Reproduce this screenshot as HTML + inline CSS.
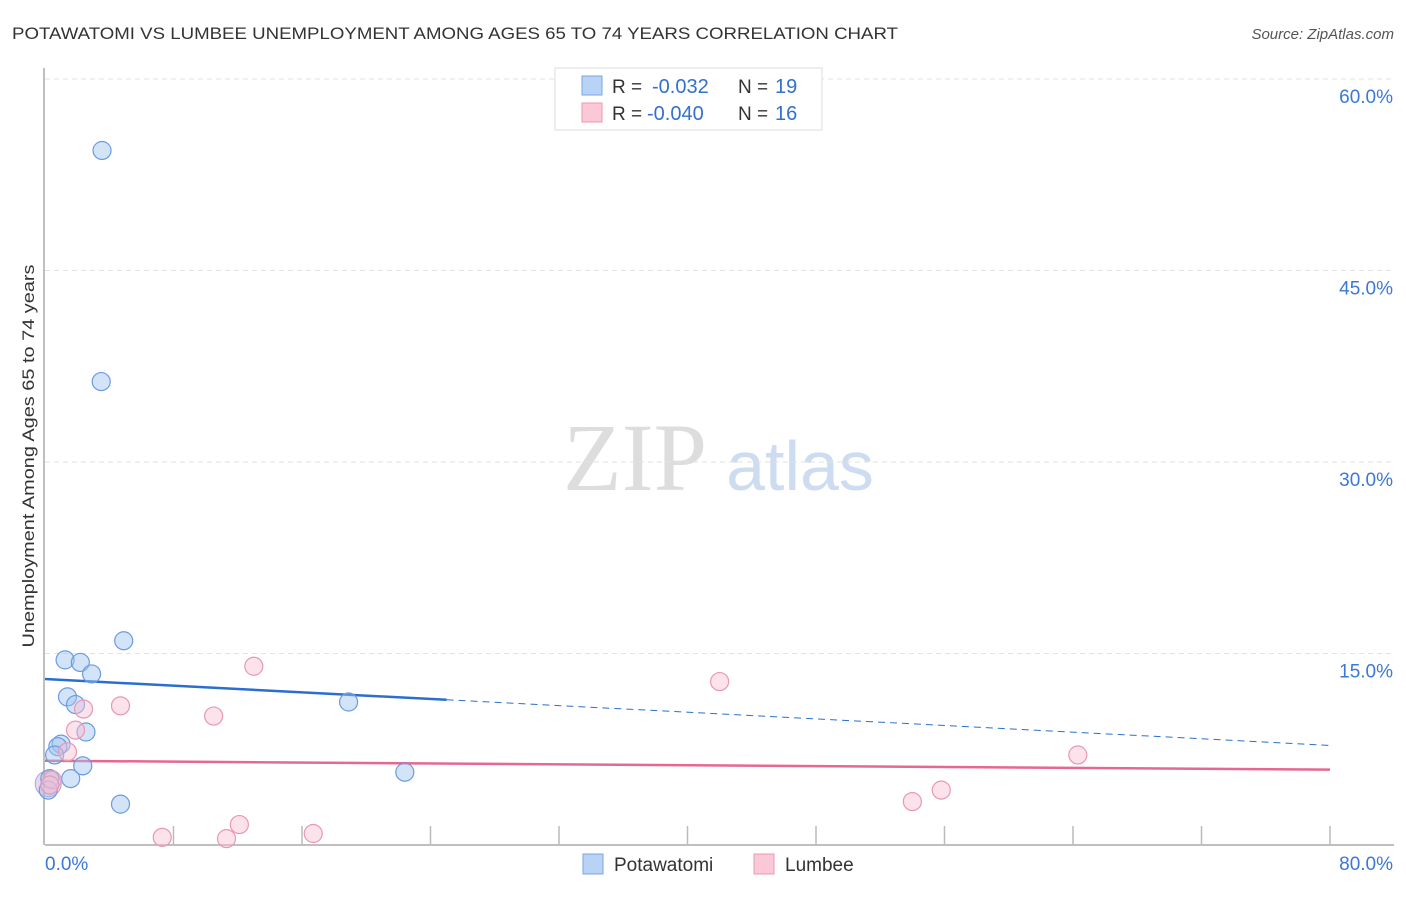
<!DOCTYPE html>
<html><head><meta charset="utf-8"><style>
body{margin:0;background:#fff;font-family:"Liberation Sans",sans-serif;}
</style></head><body>
<svg width="1406" height="892" xmlns="http://www.w3.org/2000/svg" id="chart" style="font-family:'Liberation Sans',sans-serif">
<text x="12" y="39" font-size="17" fill="#333" textLength="886" lengthAdjust="spacingAndGlyphs">POTAWATOMI VS LUMBEE UNEMPLOYMENT AMONG AGES 65 TO 74 YEARS CORRELATION CHART</text>
<text x="1394" y="39" font-size="15" fill="#555" font-style="italic" text-anchor="end">Source: ZipAtlas.com</text>
<text x="34" y="456" font-size="17" fill="#333" text-anchor="middle" textLength="383" lengthAdjust="spacingAndGlyphs" transform="rotate(-90 34 456)">Unemployment Among Ages 65 to 74 years</text>
<g><text x="635" y="490" font-size="96" fill="#ddd" font-family="Liberation Serif" text-anchor="middle">ZIP</text><text x="800" y="490" font-size="70" fill="#cddcf0" text-anchor="middle">atlas</text></g>
<g id="grid"></g><g id="axes"></g><g id="trends"></g><g id="points"></g>
<g>
<rect x="555" y="68" width="267" height="62" fill="#fff" stroke="#ddd"/>
<rect x="582" y="76" width="20" height="19" fill="#b8d3f5" stroke="#7aa6e0"/>
<rect x="582" y="103" width="20" height="19" fill="#fac8d6" stroke="#eb98b0"/>
<text x="612" y="93" font-size="19" fill="#333">R =</text><text x="652" y="93" font-size="20" fill="#3370cc">-0.032</text>
<text x="738" y="93" font-size="19" fill="#333">N =</text><text x="775" y="93" font-size="20" fill="#3370cc">19</text>
<text x="612" y="120" font-size="19" fill="#333">R =</text><text x="647" y="120" font-size="20" fill="#3370cc">-0.040</text>
<text x="738" y="120" font-size="19" fill="#333">N =</text><text x="775" y="120" font-size="20" fill="#3370cc">16</text>
</g>
<g>
<rect x="583" y="854" width="20" height="20" fill="#b8d3f5" stroke="#7aa6e0"/>
<text x="614" y="871" font-size="19" fill="#333">Potawatomi</text>
<rect x="754" y="854" width="20" height="20" fill="#fac8d6" stroke="#eb98b0"/>
<text x="785" y="871" font-size="19" fill="#333">Lumbee</text>
</g>
</svg>
<script>
const yTicks=[15,30,45,60];
const yTickLabels=["15.0%","30.0%","45.0%","60.0%"];
const xTicks=[0,8,16,24,32,40,48,56,64,72,80];
const potX=[3.55,3.5,4.9,1.25,2.2,2.9,1.4,1.9,2.55,1.0,0.8,0.6,2.35,1.6,0.3,0.2,4.7,18.9,22.4];
const potY=[54.4,36.3,16.0,14.5,14.3,13.4,11.6,11.0,8.85,7.9,7.7,7.05,6.2,5.2,5.2,4.3,3.2,11.2,5.7];
const lumX=[13.0,42.0,4.7,2.4,10.5,1.9,1.4,64.3,0.45,0.3,55.8,54.0,12.1,16.7,7.3,11.3];
const lumY=[14.0,12.8,10.9,10.65,10.1,9.0,7.3,7.05,5.1,4.7,4.3,3.4,1.6,0.9,0.6,0.5];
const potTrend=[13.0,7.8]; const lumTrend=[6.6,5.9];
const sx=v=>45+v*(1285/80), sy=v=>845-v*(766/60);
const NS="http://www.w3.org/2000/svg";
function mk(t,a,p){const e=document.createElementNS(NS,t);for(const k in a)e.setAttribute(k,a[k]);document.getElementById(p).appendChild(e);return e;}
yTicks.forEach((t,i)=>{
 const l=mk('line',{x1:45,x2:1394,y1:sy(t),y2:sy(t),stroke:'#e2e2e2','stroke-dasharray':'5,4'},'grid');
 
 
 const tx=mk('text',{x:1393,y:sy(t)+24,'font-size':19,fill:'#3b78d8','text-anchor':'end'},'grid');tx.textContent=yTickLabels[i];
 
 
});
mk('line',{x1:45,x2:1394,y1:845,y2:845,stroke:'#aaa','stroke-width':1.5},'axes');
mk('line',{x1:44,x2:44,y1:68,y2:845,stroke:'#aaa','stroke-width':1.5},'axes');
xTicks.slice(1).forEach(t=>{const l=mk('line',{x1:sx(t),x2:sx(t),y1:826,y2:845,stroke:'#bbb','stroke-width':1.5},'axes');
 
 });
let t0=mk('text',{x:45,y:870,'font-size':19,fill:'#3b78d8'},'axes');t0.textContent="0.0%";

let t1=mk('text',{x:1393,y:870,'font-size':19,fill:'#3b78d8','text-anchor':'end'},'axes');t1.textContent="80.0%";

const pAt=x=>potTrend[0]+(potTrend[1]-potTrend[0])*x/80;
let a=mk('line',{x1:sx(0),y1:sy(pAt(0)),x2:sx(25),y2:sy(pAt(25)),stroke:'#2a6fd0','stroke-width':2.5},'trends');

let b=mk('line',{x1:sx(25),y1:sy(pAt(25)),x2:sx(80),y2:sy(pAt(80)),stroke:'#2a6fd0','stroke-width':1,'stroke-dasharray':'7,5'},'trends');

let c=mk('line',{x1:sx(0),y1:sy(lumTrend[0]),x2:sx(80),y2:sy(lumTrend[1]),stroke:'#e46890','stroke-width':2.5},'trends');

let big=mk('circle',{cx:sx(0.2),cy:sy(4.8),r:13,fill:'rgba(190,160,215,0.4)',stroke:'#c0a0d0'},'points');

potX.forEach((x,i)=>{const e=mk('circle',{cx:sx(x),cy:sy(potY[i]),r:9,fill:'rgba(160,195,240,0.45)',stroke:'#6a9be0','stroke-width':1.2},'points');
 
 });
lumX.forEach((x,i)=>{const e=mk('circle',{cx:sx(x),cy:sy(lumY[i]),r:9,fill:'rgba(248,190,210,0.45)',stroke:'#e898b2','stroke-width':1.2},'points');
 
 });
</script>
</body></html>
